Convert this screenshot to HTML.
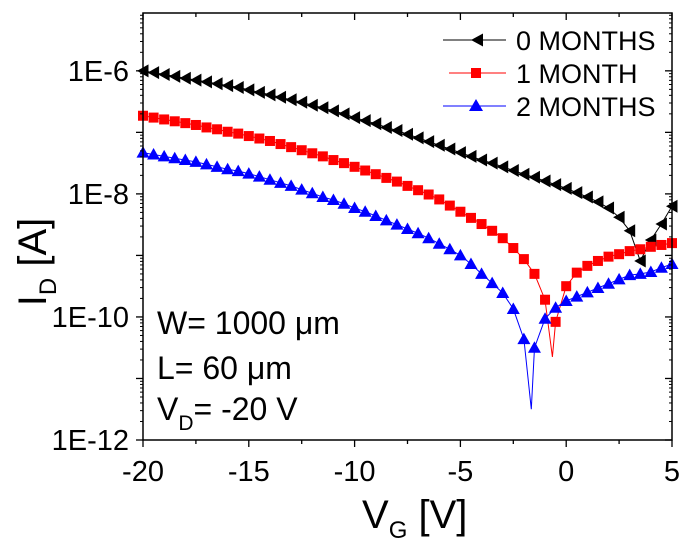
<!DOCTYPE html>
<html><head><meta charset="utf-8"><style>
html,body{margin:0;padding:0;background:#fff;}
svg{display:block;font-family:"Liberation Sans",Arial,sans-serif;}
</style></head><body>
<svg id="chart" width="694" height="546" viewBox="0 0 694 546">
<rect x="0" y="0" width="694" height="546" fill="#fff"/>
<g id="marks"></g>
<g id="axes"></g>
<g>
 <line x1="443" y1="40" x2="506" y2="40" stroke="#000" stroke-width="1"/>
 <polygon points="471,40 483,33.5 483,46.5" fill="#000"/>
 <text x="516" y="50" font-size="27">0 MONTHS</text>
 <line x1="449" y1="73" x2="506" y2="73" stroke="#f00" stroke-width="1"/>
 <rect x="471" y="68" width="10" height="10" fill="#f00"/>
 <text x="516" y="83" font-size="27">1 MONTH</text>
 <line x1="443" y1="106" x2="506" y2="106" stroke="#00f" stroke-width="1"/>
 <polygon points="476,99 483,111 469,111" fill="#00f"/>
 <text x="516" y="116" font-size="27">2 MONTHS</text>
</g>
<g font-size="32">
 <text x="157" y="334">W= 1000 μm</text>
 <text x="157" y="379">L= 60 μm</text>
 <text x="157" y="420">V<tspan font-size="21" dy="10">D</tspan><tspan dy="-10">= -20 V</tspan></text>
</g>
<text x="362" y="528" font-size="40">V<tspan font-size="24" dy="10">G</tspan><tspan dy="-10"> [V]</tspan></text>
<text transform="translate(46,262) rotate(-90)" text-anchor="middle" font-size="40">I<tspan font-size="24" dy="10">D</tspan><tspan dy="-10"> [A]</tspan></text>
</svg>
<script>
const vg = [];
for (let i = 0; i <= 50; i++) vg.push(-20 + i * 0.5);
const xTicks = [-20, -15, -10, -5, 0, 5];
const yTicks = [-12, -10, -8, -6];
const yTickLabels = ["1E-12", "1E-10", "1E-8", "1E-6"];
const logI0 = [-6.00,-6.03,-6.06,-6.09,-6.12,-6.15,-6.18,-6.21,-6.24,-6.27,-6.31,-6.35,-6.39,-6.43,-6.47,-6.51,-6.56,-6.60,-6.65,-6.70,-6.76,-6.81,-6.86,-6.92,-6.97,-7.03,-7.09,-7.15,-7.21,-7.27,-7.33,-7.39,-7.45,-7.50,-7.56,-7.62,-7.68,-7.73,-7.79,-7.85,-7.91,-7.98,-8.05,-8.13,-8.23,-8.38,-8.60,-9.09,-8.75,-8.49,-8.20];
const logI1 = [-6.73,-6.76,-6.79,-6.82,-6.85,-6.88,-6.92,-6.95,-6.99,-7.02,-7.06,-7.10,-7.14,-7.19,-7.24,-7.29,-7.34,-7.39,-7.45,-7.50,-7.56,-7.62,-7.68,-7.74,-7.80,-7.87,-7.94,-8.01,-8.09,-8.19,-8.29,-8.39,-8.49,-8.60,-8.72,-8.88,-9.06,-9.30,-9.72,-10.08,-9.50,-9.28,-9.17,-9.09,-9.02,-8.98,-8.93,-8.90,-8.86,-8.83,-8.80];
const logI2 = [-7.33,-7.36,-7.39,-7.42,-7.45,-7.48,-7.52,-7.56,-7.60,-7.63,-7.67,-7.72,-7.77,-7.82,-7.87,-7.93,-7.99,-8.05,-8.10,-8.16,-8.23,-8.29,-8.36,-8.43,-8.50,-8.57,-8.64,-8.72,-8.81,-8.90,-9.00,-9.14,-9.30,-9.45,-9.61,-9.87,-10.36,-10.50,-10.03,-9.85,-9.74,-9.67,-9.60,-9.53,-9.46,-9.39,-9.32,-9.30,-9.27,-9.20,-9.14];
const dip1X = [-0.65], dip1Y = [-10.65];
const dip2X = [-1.65], dip2Y = [-11.5];

const L = 143, R = 672, T = 13, B = 440;
const X0 = -20, X1 = 5, Y0 = -12, Y1 = -5.06;
const sx = v => L + (v - X0) / (X1 - X0) * (R - L);
const sy = v => B - (v - Y0) / (Y1 - Y0) * (B - T);
const NS = "http://www.w3.org/2000/svg";
const marks = document.getElementById("marks");
const axes = document.getElementById("axes");
function mk(tag, attrs, parent) {
  const e = document.createElementNS(NS, tag);
  for (const k in attrs) e.setAttribute(k, attrs[k]);
  parent.appendChild(e);
  return e;
}
function linePts(ys, dx, dy) {
  const pts = vg.map((x, i) => [x, ys[i]]);
  dx.forEach((x, i) => pts.push([x, dy[i]]));
  pts.sort((a, b) => a[0] - b[0]);
  return pts.map(p => sx(p[0]).toFixed(1) + "," + sy(p[1]).toFixed(1)).join(" ");
}
const series = [
  {ys: logI0, dx: [], dy: [], color: "#000", name: "0-months", shape: "left"},
  {ys: logI1, dx: dip1X, dy: dip1Y, color: "#f00", name: "1-month", shape: "square"},
  {ys: logI2, dx: dip2X, dy: dip2Y, color: "#00f", name: "2-months", shape: "up"}
];
series.forEach(s => {
  const g = mk("g", {}, marks);
  
  
  const pl = mk("polyline", {points: linePts(s.ys, s.dx, s.dy), fill: "none", stroke: s.color, "stroke-width": 1}, g);
  
  
  vg.forEach((x, i) => {
    const cx = sx(x), cy = sy(s.ys[i]);
    let m;
    if (s.shape === "square") m = mk("rect", {x: cx - 5, y: cy - 5, width: 10, height: 10, fill: s.color}, g);
    else if (s.shape === "up") m = mk("polygon", {points: `${cx},${cy-6.5} ${cx+6.5},${cy+5} ${cx-6.5},${cy+5}`, fill: s.color}, g);
    else m = mk("polygon", {points: `${cx-6},${cy} ${cx+5.5},${cy-6.5} ${cx+5.5},${cy+6.5}`, fill: s.color}, g);
    
    
  });
});
const fr = mk("rect", {x: L, y: T, width: R - L, height: B - T, fill: "none", stroke: "#000", "stroke-width": 1.5}, axes);


for (let v = X0; v <= X1 + 0.01; v += 2.5) {
  const major = xTicks.includes(v);
  const len = major ? 7 : 4;
  mk("line", {x1: sx(v), y1: B, x2: sx(v), y2: B + len, stroke: "#000", "stroke-width": 1.3}, axes);
  mk("line", {x1: sx(v), y1: T, x2: sx(v), y2: T + len, stroke: "#000", "stroke-width": 1.3}, axes);
}
xTicks.forEach(v => {
  const t = mk("text", {x: sx(v), y: 481, "text-anchor": "middle", "font-size": 29}, axes);
  t.textContent = v;
  
  
});
for (let d = -12; d <= -6; d++) {
  mk("line", {x1: L - 7, y1: sy(d), x2: L, y2: sy(d), stroke: "#000", "stroke-width": 1.3}, axes);
  mk("line", {x1: R - 7, y1: sy(d), x2: R, y2: sy(d), stroke: "#000", "stroke-width": 1.3}, axes);
  for (let k = 2; k <= 9; k++) {
    const v = d + Math.log10(k);
    if (v > Y1) continue;
    mk("line", {x1: L - 3, y1: sy(v), x2: L, y2: sy(v), stroke: "#000", "stroke-width": 1}, axes);
    mk("line", {x1: R - 3, y1: sy(v), x2: R, y2: sy(v), stroke: "#000", "stroke-width": 1}, axes);
  }
}
yTicks.forEach((v, i) => {
  const t = mk("text", {x: 129, y: sy(v) + 10, "text-anchor": "end", "font-size": 29}, axes);
  t.textContent = yTickLabels[i];
  
  
});
</script>
</body></html>
